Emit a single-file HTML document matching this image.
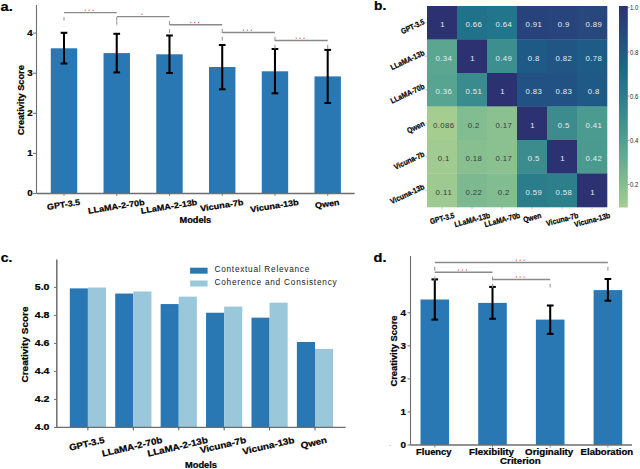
<!DOCTYPE html><html><head><meta charset="utf-8"><style>html,body{margin:0;padding:0;background:#fff;overflow:hidden}svg{display:block}</style></head><body>
<svg width="640" height="469" viewBox="0 0 640 469">
<rect width="640" height="469" fill="#fff"/>
<text x="0.50" y="10.60" style='font-family:"Liberation Sans",sans-serif;font-weight:bold;font-size:12.30px' text-anchor="start" fill="#000" stroke="#000" stroke-width="0.22" textLength="12.23" lengthAdjust="spacingAndGlyphs">a.</text>
<line x1="33.00" y1="193.50" x2="36.50" y2="193.50" stroke="#6e6e6e" stroke-width="1"/>
<text x="32.60" y="196.35" style='font-family:"Liberation Sans",sans-serif;font-weight:bold;font-size:8.21px' text-anchor="end" fill="#000" stroke="#000" stroke-width="0.22" textLength="5.39" lengthAdjust="spacingAndGlyphs">0</text>
<line x1="33.00" y1="153.40" x2="36.50" y2="153.40" stroke="#6e6e6e" stroke-width="1"/>
<text x="32.60" y="156.25" style='font-family:"Liberation Sans",sans-serif;font-weight:bold;font-size:8.21px' text-anchor="end" fill="#000" stroke="#000" stroke-width="0.22" textLength="5.39" lengthAdjust="spacingAndGlyphs">1</text>
<line x1="33.00" y1="113.30" x2="36.50" y2="113.30" stroke="#6e6e6e" stroke-width="1"/>
<text x="32.60" y="116.15" style='font-family:"Liberation Sans",sans-serif;font-weight:bold;font-size:8.21px' text-anchor="end" fill="#000" stroke="#000" stroke-width="0.22" textLength="5.39" lengthAdjust="spacingAndGlyphs">2</text>
<line x1="33.00" y1="73.20" x2="36.50" y2="73.20" stroke="#6e6e6e" stroke-width="1"/>
<text x="32.60" y="76.05" style='font-family:"Liberation Sans",sans-serif;font-weight:bold;font-size:8.21px' text-anchor="end" fill="#000" stroke="#000" stroke-width="0.22" textLength="5.39" lengthAdjust="spacingAndGlyphs">3</text>
<line x1="33.00" y1="33.10" x2="36.50" y2="33.10" stroke="#6e6e6e" stroke-width="1"/>
<text x="32.60" y="35.95" style='font-family:"Liberation Sans",sans-serif;font-weight:bold;font-size:8.21px' text-anchor="end" fill="#000" stroke="#000" stroke-width="0.22" textLength="5.39" lengthAdjust="spacingAndGlyphs">4</text>
<text x="23.86" y="100.30" style='font-family:"Liberation Sans",sans-serif;font-weight:bold;font-size:8.21px' text-anchor="middle" fill="#000" stroke="#000" stroke-width="0.22" transform="rotate(-90 23.86 100.30)" textLength="70.10" lengthAdjust="spacingAndGlyphs">Creativity Score</text>
<rect x="50.80" y="48.30" width="26.40" height="145.20" fill="#2977b3"/>
<rect x="103.54" y="53.10" width="26.40" height="140.40" fill="#2977b3"/>
<rect x="156.28" y="54.30" width="26.40" height="139.20" fill="#2977b3"/>
<rect x="209.02" y="67.00" width="26.40" height="126.50" fill="#2977b3"/>
<rect x="261.76" y="71.30" width="26.40" height="122.20" fill="#2977b3"/>
<rect x="314.50" y="76.40" width="26.40" height="117.10" fill="#2977b3"/>
<line x1="36.50" y1="5.00" x2="36.50" y2="193.50" stroke="#6e6e6e" stroke-width="1.1"/>
<line x1="36.50" y1="193.50" x2="354.60" y2="193.50" stroke="#6e6e6e" stroke-width="1.3"/>
<line x1="64.00" y1="32.80" x2="64.00" y2="63.50" stroke="#000" stroke-width="2.05"/>
<line x1="60.65" y1="32.80" x2="67.35" y2="32.80" stroke="#000" stroke-width="2.05"/>
<line x1="60.65" y1="63.50" x2="67.35" y2="63.50" stroke="#000" stroke-width="2.05"/>
<line x1="116.74" y1="33.80" x2="116.74" y2="72.40" stroke="#000" stroke-width="2.05"/>
<line x1="113.39" y1="33.80" x2="120.09" y2="33.80" stroke="#000" stroke-width="2.05"/>
<line x1="113.39" y1="72.40" x2="120.09" y2="72.40" stroke="#000" stroke-width="2.05"/>
<line x1="169.48" y1="35.50" x2="169.48" y2="73.00" stroke="#000" stroke-width="2.05"/>
<line x1="166.13" y1="35.50" x2="172.83" y2="35.50" stroke="#000" stroke-width="2.05"/>
<line x1="166.13" y1="73.00" x2="172.83" y2="73.00" stroke="#000" stroke-width="2.05"/>
<line x1="222.22" y1="45.00" x2="222.22" y2="89.30" stroke="#000" stroke-width="2.05"/>
<line x1="218.87" y1="45.00" x2="225.57" y2="45.00" stroke="#000" stroke-width="2.05"/>
<line x1="218.87" y1="89.30" x2="225.57" y2="89.30" stroke="#000" stroke-width="2.05"/>
<line x1="274.96" y1="49.00" x2="274.96" y2="93.30" stroke="#000" stroke-width="2.05"/>
<line x1="271.61" y1="49.00" x2="278.31" y2="49.00" stroke="#000" stroke-width="2.05"/>
<line x1="271.61" y1="93.30" x2="278.31" y2="93.30" stroke="#000" stroke-width="2.05"/>
<line x1="327.70" y1="49.90" x2="327.70" y2="103.00" stroke="#000" stroke-width="2.05"/>
<line x1="324.35" y1="49.90" x2="331.05" y2="49.90" stroke="#000" stroke-width="2.05"/>
<line x1="324.35" y1="103.00" x2="331.05" y2="103.00" stroke="#000" stroke-width="2.05"/>
<line x1="64.00" y1="193.50" x2="64.00" y2="196.00" stroke="#6e6e6e" stroke-width="0.8"/>
<line x1="116.74" y1="193.50" x2="116.74" y2="196.00" stroke="#6e6e6e" stroke-width="0.8"/>
<line x1="169.48" y1="193.50" x2="169.48" y2="196.00" stroke="#6e6e6e" stroke-width="0.8"/>
<line x1="222.22" y1="193.50" x2="222.22" y2="196.00" stroke="#6e6e6e" stroke-width="0.8"/>
<line x1="274.96" y1="193.50" x2="274.96" y2="196.00" stroke="#6e6e6e" stroke-width="0.8"/>
<line x1="327.70" y1="193.50" x2="327.70" y2="196.00" stroke="#6e6e6e" stroke-width="0.8"/>
<text x="64.00" y="207.37" style='font-family:"Liberation Sans",sans-serif;font-weight:bold;font-size:8.21px' text-anchor="middle" fill="#000" stroke="#000" stroke-width="0.22" transform="rotate(-9 64.00 207.37)" textLength="33.13" lengthAdjust="spacingAndGlyphs">GPT-3.5</text>
<text x="116.74" y="209.24" style='font-family:"Liberation Sans",sans-serif;font-weight:bold;font-size:8.21px' text-anchor="middle" fill="#000" stroke="#000" stroke-width="0.22" transform="rotate(-9 116.74 209.24)" textLength="56.97" lengthAdjust="spacingAndGlyphs">LLaMA-2-70b</text>
<text x="169.48" y="209.24" style='font-family:"Liberation Sans",sans-serif;font-weight:bold;font-size:8.21px' text-anchor="middle" fill="#000" stroke="#000" stroke-width="0.22" transform="rotate(-9 169.48 209.24)" textLength="56.97" lengthAdjust="spacingAndGlyphs">LLaMA-2-13b</text>
<text x="222.22" y="208.19" style='font-family:"Liberation Sans",sans-serif;font-weight:bold;font-size:8.21px' text-anchor="middle" fill="#000" stroke="#000" stroke-width="0.22" transform="rotate(-9 222.22 208.19)" textLength="43.53" lengthAdjust="spacingAndGlyphs">Vicuna-7b</text>
<text x="274.96" y="208.61" style='font-family:"Liberation Sans",sans-serif;font-weight:bold;font-size:8.21px' text-anchor="middle" fill="#000" stroke="#000" stroke-width="0.22" transform="rotate(-9 274.96 208.61)" textLength="48.93" lengthAdjust="spacingAndGlyphs">Vicuna-13b</text>
<text x="327.70" y="206.70" style='font-family:"Liberation Sans",sans-serif;font-weight:bold;font-size:8.21px' text-anchor="middle" fill="#000" stroke="#000" stroke-width="0.22" transform="rotate(-9 327.70 206.70)" textLength="24.52" lengthAdjust="spacingAndGlyphs">Qwen</text>
<text x="195.40" y="223.00" style='font-family:"Liberation Sans",sans-serif;font-weight:bold;font-size:8.37px' text-anchor="middle" fill="#000" stroke="#000" stroke-width="0.22" textLength="31.71" lengthAdjust="spacingAndGlyphs">Models</text>
<line x1="64.00" y1="12.60" x2="116.74" y2="12.60" stroke="#8a8a8a" stroke-width="1.45"/>
<line x1="64.00" y1="16.90" x2="64.00" y2="20.80" stroke="#9a9a9a" stroke-width="1.1"/>
<line x1="116.74" y1="16.90" x2="116.74" y2="20.80" stroke="#9a9a9a" stroke-width="1.1"/>
<circle cx="85.27" cy="10.30" r="0.75" fill="#f26b6b"/>
<circle cx="89.17" cy="10.30" r="0.75" fill="#f26b6b"/>
<circle cx="93.07" cy="10.30" r="0.75" fill="#f26b6b"/>
<line x1="116.74" y1="16.60" x2="169.48" y2="16.60" stroke="#8a8a8a" stroke-width="1.45"/>
<line x1="116.74" y1="20.90" x2="116.74" y2="24.80" stroke="#9a9a9a" stroke-width="1.1"/>
<line x1="169.48" y1="20.90" x2="169.48" y2="24.80" stroke="#9a9a9a" stroke-width="1.1"/>
<circle cx="141.91" cy="14.30" r="0.75" fill="#f26b6b"/>
<line x1="169.48" y1="24.80" x2="222.22" y2="24.80" stroke="#8a8a8a" stroke-width="1.45"/>
<line x1="169.48" y1="29.10" x2="169.48" y2="33.00" stroke="#9a9a9a" stroke-width="1.1"/>
<line x1="222.22" y1="29.10" x2="222.22" y2="33.00" stroke="#9a9a9a" stroke-width="1.1"/>
<circle cx="190.75" cy="22.50" r="0.75" fill="#f26b6b"/>
<circle cx="194.65" cy="22.50" r="0.75" fill="#f26b6b"/>
<circle cx="198.55" cy="22.50" r="0.75" fill="#f26b6b"/>
<line x1="222.22" y1="32.50" x2="274.96" y2="32.50" stroke="#8a8a8a" stroke-width="1.45"/>
<line x1="222.22" y1="36.80" x2="222.22" y2="40.70" stroke="#9a9a9a" stroke-width="1.1"/>
<line x1="274.96" y1="36.80" x2="274.96" y2="40.70" stroke="#9a9a9a" stroke-width="1.1"/>
<circle cx="243.49" cy="30.20" r="0.75" fill="#f26b6b"/>
<circle cx="247.39" cy="30.20" r="0.75" fill="#f26b6b"/>
<circle cx="251.29" cy="30.20" r="0.75" fill="#f26b6b"/>
<line x1="274.96" y1="40.50" x2="327.70" y2="40.50" stroke="#8a8a8a" stroke-width="1.45"/>
<line x1="274.96" y1="44.80" x2="274.96" y2="48.70" stroke="#9a9a9a" stroke-width="1.1"/>
<line x1="327.70" y1="44.80" x2="327.70" y2="48.70" stroke="#9a9a9a" stroke-width="1.1"/>
<circle cx="296.23" cy="38.20" r="0.75" fill="#f26b6b"/>
<circle cx="300.13" cy="38.20" r="0.75" fill="#f26b6b"/>
<circle cx="304.03" cy="38.20" r="0.75" fill="#f26b6b"/>
<text x="374.00" y="9.80" style='font-family:"Liberation Sans",sans-serif;font-weight:bold;font-size:11.87px' text-anchor="start" fill="#000" stroke="#000" stroke-width="0.22" textLength="12.27" lengthAdjust="spacingAndGlyphs">b.</text>
<rect x="427.00" y="6.00" width="30.30" height="33.80" fill="#2c3172"/>
<rect x="457.00" y="6.00" width="30.30" height="33.80" fill="#20728b"/>
<rect x="487.00" y="6.00" width="30.30" height="33.80" fill="#23758b"/>
<rect x="517.00" y="6.00" width="30.30" height="33.80" fill="#28437b"/>
<rect x="547.00" y="6.00" width="30.30" height="33.80" fill="#27457c"/>
<rect x="577.00" y="6.00" width="30.30" height="33.80" fill="#27477d"/>
<rect x="427.00" y="39.50" width="30.30" height="33.80" fill="#5ba690"/>
<rect x="457.00" y="39.50" width="30.30" height="33.80" fill="#2c3172"/>
<rect x="487.00" y="39.50" width="30.30" height="33.80" fill="#3d8e8e"/>
<rect x="517.00" y="39.50" width="30.30" height="33.80" fill="#1f5985"/>
<rect x="547.00" y="39.50" width="30.30" height="33.80" fill="#215583"/>
<rect x="577.00" y="39.50" width="30.30" height="33.80" fill="#1e5c86"/>
<rect x="427.00" y="73.00" width="30.30" height="33.80" fill="#57a490"/>
<rect x="457.00" y="73.00" width="30.30" height="33.80" fill="#3a8b8e"/>
<rect x="487.00" y="73.00" width="30.30" height="33.80" fill="#2c3172"/>
<rect x="517.00" y="73.00" width="30.30" height="33.80" fill="#225283"/>
<rect x="547.00" y="73.00" width="30.30" height="33.80" fill="#225283"/>
<rect x="577.00" y="73.00" width="30.30" height="33.80" fill="#1f5985"/>
<rect x="427.00" y="106.50" width="30.30" height="33.80" fill="#a5cd90"/>
<rect x="457.00" y="106.50" width="30.30" height="33.80" fill="#82bc91"/>
<rect x="487.00" y="106.50" width="30.30" height="33.80" fill="#8bc191"/>
<rect x="517.00" y="106.50" width="30.30" height="33.80" fill="#2c3172"/>
<rect x="547.00" y="106.50" width="30.30" height="33.80" fill="#3c8c8e"/>
<rect x="577.00" y="106.50" width="30.30" height="33.80" fill="#4c9b90"/>
<rect x="427.00" y="140.00" width="30.30" height="33.80" fill="#a2cb91"/>
<rect x="457.00" y="140.00" width="30.30" height="33.80" fill="#88bf91"/>
<rect x="487.00" y="140.00" width="30.30" height="33.80" fill="#8bc191"/>
<rect x="517.00" y="140.00" width="30.30" height="33.80" fill="#3c8c8e"/>
<rect x="547.00" y="140.00" width="30.30" height="33.80" fill="#2c3172"/>
<rect x="577.00" y="140.00" width="30.30" height="33.80" fill="#4a9a8f"/>
<rect x="427.00" y="173.50" width="30.30" height="33.80" fill="#9eca91"/>
<rect x="457.00" y="173.50" width="30.30" height="33.80" fill="#7cb991"/>
<rect x="487.00" y="173.50" width="30.30" height="33.80" fill="#82bc91"/>
<rect x="517.00" y="173.50" width="30.30" height="33.80" fill="#2b7d8c"/>
<rect x="547.00" y="173.50" width="30.30" height="33.80" fill="#2d7f8c"/>
<rect x="577.00" y="173.50" width="30.30" height="33.80" fill="#2c3172"/>
<text x="442.50" y="27.35" style='font-family:"Liberation Sans",sans-serif;font-size:7.80px' text-anchor="middle" fill="#e6edf0">1</text>
<text x="473.60" y="27.35" style='font-family:"Liberation Sans",sans-serif;font-size:7.80px' text-anchor="middle" fill="#e6edf0" textLength="16.40" lengthAdjust="spacing">0.66</text>
<text x="503.60" y="27.35" style='font-family:"Liberation Sans",sans-serif;font-size:7.80px' text-anchor="middle" fill="#e6edf0" textLength="16.40" lengthAdjust="spacing">0.64</text>
<text x="533.60" y="27.35" style='font-family:"Liberation Sans",sans-serif;font-size:7.80px' text-anchor="middle" fill="#e6edf0" textLength="16.40" lengthAdjust="spacing">0.91</text>
<text x="563.60" y="27.35" style='font-family:"Liberation Sans",sans-serif;font-size:7.80px' text-anchor="middle" fill="#e6edf0" textLength="11.50" lengthAdjust="spacing">0.9</text>
<text x="593.60" y="27.35" style='font-family:"Liberation Sans",sans-serif;font-size:7.80px' text-anchor="middle" fill="#e6edf0" textLength="16.40" lengthAdjust="spacing">0.89</text>
<text x="443.60" y="60.85" style='font-family:"Liberation Sans",sans-serif;font-size:7.80px' text-anchor="middle" fill="#e6edf0" textLength="16.40" lengthAdjust="spacing">0.34</text>
<text x="472.50" y="60.85" style='font-family:"Liberation Sans",sans-serif;font-size:7.80px' text-anchor="middle" fill="#e6edf0">1</text>
<text x="503.60" y="60.85" style='font-family:"Liberation Sans",sans-serif;font-size:7.80px' text-anchor="middle" fill="#e6edf0" textLength="16.40" lengthAdjust="spacing">0.49</text>
<text x="533.60" y="60.85" style='font-family:"Liberation Sans",sans-serif;font-size:7.80px' text-anchor="middle" fill="#e6edf0" textLength="11.50" lengthAdjust="spacing">0.8</text>
<text x="563.60" y="60.85" style='font-family:"Liberation Sans",sans-serif;font-size:7.80px' text-anchor="middle" fill="#e6edf0" textLength="16.40" lengthAdjust="spacing">0.82</text>
<text x="593.60" y="60.85" style='font-family:"Liberation Sans",sans-serif;font-size:7.80px' text-anchor="middle" fill="#e6edf0" textLength="16.40" lengthAdjust="spacing">0.78</text>
<text x="443.60" y="94.35" style='font-family:"Liberation Sans",sans-serif;font-size:7.80px' text-anchor="middle" fill="#e6edf0" textLength="16.40" lengthAdjust="spacing">0.36</text>
<text x="473.60" y="94.35" style='font-family:"Liberation Sans",sans-serif;font-size:7.80px' text-anchor="middle" fill="#e6edf0" textLength="16.40" lengthAdjust="spacing">0.51</text>
<text x="502.50" y="94.35" style='font-family:"Liberation Sans",sans-serif;font-size:7.80px' text-anchor="middle" fill="#e6edf0">1</text>
<text x="533.60" y="94.35" style='font-family:"Liberation Sans",sans-serif;font-size:7.80px' text-anchor="middle" fill="#e6edf0" textLength="16.40" lengthAdjust="spacing">0.83</text>
<text x="563.60" y="94.35" style='font-family:"Liberation Sans",sans-serif;font-size:7.80px' text-anchor="middle" fill="#e6edf0" textLength="16.40" lengthAdjust="spacing">0.83</text>
<text x="593.60" y="94.35" style='font-family:"Liberation Sans",sans-serif;font-size:7.80px' text-anchor="middle" fill="#e6edf0" textLength="11.50" lengthAdjust="spacing">0.8</text>
<text x="443.60" y="127.85" style='font-family:"Liberation Sans",sans-serif;font-size:7.80px' text-anchor="middle" fill="#3a3a3a" textLength="21.00" lengthAdjust="spacing">0.086</text>
<text x="473.60" y="127.85" style='font-family:"Liberation Sans",sans-serif;font-size:7.80px' text-anchor="middle" fill="#3a3a3a" textLength="11.50" lengthAdjust="spacing">0.2</text>
<text x="503.60" y="127.85" style='font-family:"Liberation Sans",sans-serif;font-size:7.80px' text-anchor="middle" fill="#3a3a3a" textLength="16.40" lengthAdjust="spacing">0.17</text>
<text x="532.50" y="127.85" style='font-family:"Liberation Sans",sans-serif;font-size:7.80px' text-anchor="middle" fill="#e6edf0">1</text>
<text x="563.60" y="127.85" style='font-family:"Liberation Sans",sans-serif;font-size:7.80px' text-anchor="middle" fill="#e6edf0" textLength="11.50" lengthAdjust="spacing">0.5</text>
<text x="593.60" y="127.85" style='font-family:"Liberation Sans",sans-serif;font-size:7.80px' text-anchor="middle" fill="#e6edf0" textLength="16.40" lengthAdjust="spacing">0.41</text>
<text x="443.60" y="161.35" style='font-family:"Liberation Sans",sans-serif;font-size:7.80px' text-anchor="middle" fill="#3a3a3a" textLength="11.50" lengthAdjust="spacing">0.1</text>
<text x="473.60" y="161.35" style='font-family:"Liberation Sans",sans-serif;font-size:7.80px' text-anchor="middle" fill="#3a3a3a" textLength="16.40" lengthAdjust="spacing">0.18</text>
<text x="503.60" y="161.35" style='font-family:"Liberation Sans",sans-serif;font-size:7.80px' text-anchor="middle" fill="#3a3a3a" textLength="16.40" lengthAdjust="spacing">0.17</text>
<text x="533.60" y="161.35" style='font-family:"Liberation Sans",sans-serif;font-size:7.80px' text-anchor="middle" fill="#e6edf0" textLength="11.50" lengthAdjust="spacing">0.5</text>
<text x="562.50" y="161.35" style='font-family:"Liberation Sans",sans-serif;font-size:7.80px' text-anchor="middle" fill="#e6edf0">1</text>
<text x="593.60" y="161.35" style='font-family:"Liberation Sans",sans-serif;font-size:7.80px' text-anchor="middle" fill="#e6edf0" textLength="16.40" lengthAdjust="spacing">0.42</text>
<text x="443.60" y="194.85" style='font-family:"Liberation Sans",sans-serif;font-size:7.80px' text-anchor="middle" fill="#3a3a3a" textLength="16.40" lengthAdjust="spacing">0.11</text>
<text x="473.60" y="194.85" style='font-family:"Liberation Sans",sans-serif;font-size:7.80px' text-anchor="middle" fill="#3a3a3a" textLength="16.40" lengthAdjust="spacing">0.22</text>
<text x="503.60" y="194.85" style='font-family:"Liberation Sans",sans-serif;font-size:7.80px' text-anchor="middle" fill="#3a3a3a" textLength="11.50" lengthAdjust="spacing">0.2</text>
<text x="533.60" y="194.85" style='font-family:"Liberation Sans",sans-serif;font-size:7.80px' text-anchor="middle" fill="#e6edf0" textLength="16.40" lengthAdjust="spacing">0.59</text>
<text x="563.60" y="194.85" style='font-family:"Liberation Sans",sans-serif;font-size:7.80px' text-anchor="middle" fill="#e6edf0" textLength="16.40" lengthAdjust="spacing">0.58</text>
<text x="592.50" y="194.85" style='font-family:"Liberation Sans",sans-serif;font-size:7.80px' text-anchor="middle" fill="#e6edf0">1</text>
<text x="425.20" y="23.70" style='font-family:"Liberation Sans",sans-serif;font-weight:bold;font-size:7.80px' text-anchor="end" fill="#000" stroke="#000" stroke-width="0.22" transform="rotate(-25 425.20 23.70)" textLength="25.01" lengthAdjust="spacingAndGlyphs">GPT-3.5</text>
<line x1="424.50" y1="22.75" x2="427.00" y2="22.75" stroke="#aaa" stroke-width="0.6"/>
<text x="425.20" y="54.77" style='font-family:"Liberation Sans",sans-serif;font-weight:bold;font-size:7.80px' text-anchor="end" fill="#000" stroke="#000" stroke-width="0.22" transform="rotate(-25 425.20 54.77)" textLength="36.51" lengthAdjust="spacingAndGlyphs">LLaMA-13b</text>
<line x1="424.50" y1="56.25" x2="427.00" y2="56.25" stroke="#aaa" stroke-width="0.6"/>
<text x="425.20" y="88.27" style='font-family:"Liberation Sans",sans-serif;font-weight:bold;font-size:7.80px' text-anchor="end" fill="#000" stroke="#000" stroke-width="0.22" transform="rotate(-25 425.20 88.27)" textLength="36.51" lengthAdjust="spacingAndGlyphs">LLaMA-70b</text>
<line x1="424.50" y1="89.75" x2="427.00" y2="89.75" stroke="#aaa" stroke-width="0.6"/>
<text x="425.20" y="125.57" style='font-family:"Liberation Sans",sans-serif;font-weight:bold;font-size:7.80px' text-anchor="end" fill="#000" stroke="#000" stroke-width="0.22" transform="rotate(-25 425.20 125.57)" textLength="18.51" lengthAdjust="spacingAndGlyphs">Qwen</text>
<line x1="424.50" y1="123.25" x2="427.00" y2="123.25" stroke="#aaa" stroke-width="0.6"/>
<text x="425.20" y="156.04" style='font-family:"Liberation Sans",sans-serif;font-weight:bold;font-size:7.80px' text-anchor="end" fill="#000" stroke="#000" stroke-width="0.22" transform="rotate(-25 425.20 156.04)" textLength="32.86" lengthAdjust="spacingAndGlyphs">Vicuna-7b</text>
<line x1="424.50" y1="156.75" x2="427.00" y2="156.75" stroke="#aaa" stroke-width="0.6"/>
<text x="425.20" y="188.68" style='font-family:"Liberation Sans",sans-serif;font-weight:bold;font-size:7.80px' text-anchor="end" fill="#000" stroke="#000" stroke-width="0.22" transform="rotate(-25 425.20 188.68)" textLength="36.93" lengthAdjust="spacingAndGlyphs">Vicuna-13b</text>
<line x1="424.50" y1="190.25" x2="427.00" y2="190.25" stroke="#aaa" stroke-width="0.6"/>
<line x1="442.00" y1="207.00" x2="442.00" y2="209.50" stroke="#aaa" stroke-width="0.6"/>
<text x="442.90" y="220.96" style='font-family:"Liberation Sans",sans-serif;font-weight:bold;font-size:7.80px' text-anchor="middle" fill="#000" stroke="#000" stroke-width="0.22" transform="rotate(-15 442.90 220.96)" textLength="25.01" lengthAdjust="spacingAndGlyphs">GPT-3.5</text>
<line x1="472.00" y1="207.00" x2="472.00" y2="209.50" stroke="#aaa" stroke-width="0.6"/>
<text x="472.90" y="222.44" style='font-family:"Liberation Sans",sans-serif;font-weight:bold;font-size:7.80px' text-anchor="middle" fill="#000" stroke="#000" stroke-width="0.22" transform="rotate(-15 472.90 222.44)" textLength="36.51" lengthAdjust="spacingAndGlyphs">LLaMA-13b</text>
<line x1="502.00" y1="207.00" x2="502.00" y2="209.50" stroke="#aaa" stroke-width="0.6"/>
<text x="502.90" y="222.44" style='font-family:"Liberation Sans",sans-serif;font-weight:bold;font-size:7.80px' text-anchor="middle" fill="#000" stroke="#000" stroke-width="0.22" transform="rotate(-15 502.90 222.44)" textLength="36.51" lengthAdjust="spacingAndGlyphs">LLaMA-70b</text>
<line x1="532.00" y1="207.00" x2="532.00" y2="209.50" stroke="#aaa" stroke-width="0.6"/>
<text x="532.90" y="220.11" style='font-family:"Liberation Sans",sans-serif;font-weight:bold;font-size:7.80px' text-anchor="middle" fill="#000" stroke="#000" stroke-width="0.22" transform="rotate(-15 532.90 220.11)" textLength="18.51" lengthAdjust="spacingAndGlyphs">Qwen</text>
<line x1="562.00" y1="207.00" x2="562.00" y2="209.50" stroke="#aaa" stroke-width="0.6"/>
<text x="562.90" y="221.97" style='font-family:"Liberation Sans",sans-serif;font-weight:bold;font-size:7.80px' text-anchor="middle" fill="#000" stroke="#000" stroke-width="0.22" transform="rotate(-15 562.90 221.97)" textLength="32.86" lengthAdjust="spacingAndGlyphs">Vicuna-7b</text>
<line x1="592.00" y1="207.00" x2="592.00" y2="209.50" stroke="#aaa" stroke-width="0.6"/>
<text x="592.90" y="222.50" style='font-family:"Liberation Sans",sans-serif;font-weight:bold;font-size:7.80px' text-anchor="middle" fill="#000" stroke="#000" stroke-width="0.22" transform="rotate(-15 592.90 222.50)" textLength="36.93" lengthAdjust="spacingAndGlyphs">Vicuna-13b</text>
<defs><linearGradient id="crest" x1="0" y1="1" x2="0" y2="0">
<stop offset="0.0" stop-color="#a5cd90"/>
<stop offset="0.1" stop-color="#89bf91"/>
<stop offset="0.2" stop-color="#6db290"/>
<stop offset="0.3" stop-color="#57a490"/>
<stop offset="0.4" stop-color="#44948f"/>
<stop offset="0.5" stop-color="#33858d"/>
<stop offset="0.6" stop-color="#24768b"/>
<stop offset="0.7" stop-color="#1c6689"/>
<stop offset="0.8" stop-color="#215584"/>
<stop offset="0.9" stop-color="#28437b"/>
<stop offset="1.0" stop-color="#2c3172"/>
</linearGradient></defs>
<rect x="619.00" y="6.00" width="8.80" height="201.50" fill="url(#crest)"/>
<line x1="627.80" y1="7.70" x2="629.50" y2="7.70" stroke="#555" stroke-width="0.6"/>
<text x="630.00" y="10.40" style='font-family:"Liberation Sans",sans-serif;font-size:7.60px' text-anchor="start" fill="#222" textLength="8.30" lengthAdjust="spacingAndGlyphs">1.0</text>
<line x1="627.80" y1="51.90" x2="629.50" y2="51.90" stroke="#555" stroke-width="0.6"/>
<text x="630.00" y="54.60" style='font-family:"Liberation Sans",sans-serif;font-size:7.60px' text-anchor="start" fill="#222" textLength="8.30" lengthAdjust="spacingAndGlyphs">0.8</text>
<line x1="627.80" y1="96.10" x2="629.50" y2="96.10" stroke="#555" stroke-width="0.6"/>
<text x="630.00" y="98.80" style='font-family:"Liberation Sans",sans-serif;font-size:7.60px' text-anchor="start" fill="#222" textLength="8.30" lengthAdjust="spacingAndGlyphs">0.6</text>
<line x1="627.80" y1="140.30" x2="629.50" y2="140.30" stroke="#555" stroke-width="0.6"/>
<text x="630.00" y="143.00" style='font-family:"Liberation Sans",sans-serif;font-size:7.60px' text-anchor="start" fill="#222" textLength="8.30" lengthAdjust="spacingAndGlyphs">0.4</text>
<line x1="627.80" y1="184.50" x2="629.50" y2="184.50" stroke="#555" stroke-width="0.6"/>
<text x="630.00" y="187.20" style='font-family:"Liberation Sans",sans-serif;font-size:7.60px' text-anchor="start" fill="#222" textLength="8.30" lengthAdjust="spacingAndGlyphs">0.2</text>
<text x="0.80" y="262.00" style='font-family:"Liberation Sans",sans-serif;font-weight:bold;font-size:12.72px' text-anchor="start" fill="#000" stroke="#000" stroke-width="0.22" textLength="11.67" lengthAdjust="spacingAndGlyphs">c.</text>
<line x1="54.00" y1="427.40" x2="57.00" y2="427.40" stroke="#6e6e6e" stroke-width="1"/>
<text x="49.50" y="430.40" style='font-family:"Liberation Sans",sans-serif;font-weight:bold;font-size:8.80px' text-anchor="end" fill="#000" stroke="#000" stroke-width="0.22" textLength="14.70" lengthAdjust="spacingAndGlyphs">4.0</text>
<line x1="54.00" y1="399.40" x2="57.00" y2="399.40" stroke="#6e6e6e" stroke-width="1"/>
<text x="49.50" y="402.40" style='font-family:"Liberation Sans",sans-serif;font-weight:bold;font-size:8.80px' text-anchor="end" fill="#000" stroke="#000" stroke-width="0.22" textLength="14.70" lengthAdjust="spacingAndGlyphs">4.2</text>
<line x1="54.00" y1="371.40" x2="57.00" y2="371.40" stroke="#6e6e6e" stroke-width="1"/>
<text x="49.50" y="374.40" style='font-family:"Liberation Sans",sans-serif;font-weight:bold;font-size:8.80px' text-anchor="end" fill="#000" stroke="#000" stroke-width="0.22" textLength="14.70" lengthAdjust="spacingAndGlyphs">4.4</text>
<line x1="54.00" y1="343.40" x2="57.00" y2="343.40" stroke="#6e6e6e" stroke-width="1"/>
<text x="49.50" y="346.40" style='font-family:"Liberation Sans",sans-serif;font-weight:bold;font-size:8.80px' text-anchor="end" fill="#000" stroke="#000" stroke-width="0.22" textLength="14.70" lengthAdjust="spacingAndGlyphs">4.6</text>
<line x1="54.00" y1="315.40" x2="57.00" y2="315.40" stroke="#6e6e6e" stroke-width="1"/>
<text x="49.50" y="318.40" style='font-family:"Liberation Sans",sans-serif;font-weight:bold;font-size:8.80px' text-anchor="end" fill="#000" stroke="#000" stroke-width="0.22" textLength="14.70" lengthAdjust="spacingAndGlyphs">4.8</text>
<line x1="54.00" y1="287.40" x2="57.00" y2="287.40" stroke="#6e6e6e" stroke-width="1"/>
<text x="49.50" y="290.40" style='font-family:"Liberation Sans",sans-serif;font-weight:bold;font-size:8.80px' text-anchor="end" fill="#000" stroke="#000" stroke-width="0.22" textLength="14.70" lengthAdjust="spacingAndGlyphs">5.0</text>
<text x="28.01" y="344.50" style='font-family:"Liberation Sans",sans-serif;font-weight:bold;font-size:8.90px' text-anchor="middle" fill="#000" stroke="#000" stroke-width="0.22" transform="rotate(-90 28.01 344.50)" textLength="75.98" lengthAdjust="spacingAndGlyphs">Creativity Score</text>
<rect x="69.80" y="288.38" width="18.10" height="139.02" fill="#2977b3"/>
<rect x="87.90" y="287.54" width="18.10" height="139.86" fill="#9bc7da"/>
<rect x="115.22" y="293.56" width="18.10" height="133.84" fill="#2977b3"/>
<rect x="133.32" y="291.46" width="18.10" height="135.94" fill="#9bc7da"/>
<rect x="160.64" y="304.06" width="18.10" height="123.34" fill="#2977b3"/>
<rect x="178.74" y="296.64" width="18.10" height="130.76" fill="#9bc7da"/>
<rect x="206.06" y="312.74" width="18.10" height="114.66" fill="#2977b3"/>
<rect x="224.16" y="306.58" width="18.10" height="120.82" fill="#9bc7da"/>
<rect x="251.48" y="317.64" width="18.10" height="109.76" fill="#2977b3"/>
<rect x="269.58" y="302.66" width="18.10" height="124.74" fill="#9bc7da"/>
<rect x="296.90" y="342.00" width="18.10" height="85.40" fill="#2977b3"/>
<rect x="315.00" y="349.00" width="18.10" height="78.40" fill="#9bc7da"/>
<line x1="56.80" y1="259.40" x2="56.80" y2="427.40" stroke="#6e6e6e" stroke-width="1.5"/>
<line x1="57.00" y1="427.40" x2="345.70" y2="427.40" stroke="#6e6e6e" stroke-width="1.3"/>
<line x1="87.90" y1="427.40" x2="87.90" y2="430.40" stroke="#444" stroke-width="0.9"/>
<line x1="133.32" y1="427.40" x2="133.32" y2="430.40" stroke="#444" stroke-width="0.9"/>
<line x1="178.74" y1="427.40" x2="178.74" y2="430.40" stroke="#444" stroke-width="0.9"/>
<line x1="224.16" y1="427.40" x2="224.16" y2="430.40" stroke="#444" stroke-width="0.9"/>
<line x1="269.58" y1="427.40" x2="269.58" y2="430.40" stroke="#444" stroke-width="0.9"/>
<line x1="315.00" y1="427.40" x2="315.00" y2="430.40" stroke="#444" stroke-width="0.9"/>
<text x="87.40" y="446.81" style='font-family:"Liberation Sans",sans-serif;font-weight:bold;font-size:8.90px' text-anchor="middle" fill="#000" stroke="#000" stroke-width="0.22" transform="rotate(-13 87.40 446.81)" textLength="35.91" lengthAdjust="spacingAndGlyphs">GPT-3.5</text>
<text x="132.82" y="449.71" style='font-family:"Liberation Sans",sans-serif;font-weight:bold;font-size:8.90px' text-anchor="middle" fill="#000" stroke="#000" stroke-width="0.22" transform="rotate(-13 132.82 449.71)" textLength="61.75" lengthAdjust="spacingAndGlyphs">LLaMA-2-70b</text>
<text x="178.24" y="449.71" style='font-family:"Liberation Sans",sans-serif;font-weight:bold;font-size:8.90px' text-anchor="middle" fill="#000" stroke="#000" stroke-width="0.22" transform="rotate(-13 178.24 449.71)" textLength="61.75" lengthAdjust="spacingAndGlyphs">LLaMA-2-13b</text>
<text x="223.66" y="448.07" style='font-family:"Liberation Sans",sans-serif;font-weight:bold;font-size:8.90px' text-anchor="middle" fill="#000" stroke="#000" stroke-width="0.22" transform="rotate(-13 223.66 448.07)" textLength="47.18" lengthAdjust="spacingAndGlyphs">Vicuna-7b</text>
<text x="269.08" y="448.73" style='font-family:"Liberation Sans",sans-serif;font-weight:bold;font-size:8.90px' text-anchor="middle" fill="#000" stroke="#000" stroke-width="0.22" transform="rotate(-13 269.08 448.73)" textLength="53.03" lengthAdjust="spacingAndGlyphs">Vicuna-13b</text>
<text x="314.50" y="445.76" style='font-family:"Liberation Sans",sans-serif;font-weight:bold;font-size:8.90px' text-anchor="middle" fill="#000" stroke="#000" stroke-width="0.22" transform="rotate(-13 314.50 445.76)" textLength="26.58" lengthAdjust="spacingAndGlyphs">Qwen</text>
<text x="201.00" y="468.30" style='font-family:"Liberation Sans",sans-serif;font-weight:bold;font-size:8.48px' text-anchor="middle" fill="#000" stroke="#000" stroke-width="0.22" textLength="32.11" lengthAdjust="spacingAndGlyphs">Models</text>
<rect x="190.10" y="267.70" width="17.50" height="6.00" fill="#2977b3"/>
<rect x="190.10" y="280.50" width="17.50" height="6.00" fill="#9bc7da"/>
<text x="214.50" y="272.40" style='font-family:"Liberation Sans",sans-serif;font-size:8.30px' text-anchor="start" fill="#1a1a1a" textLength="94.80" lengthAdjust="spacing">Contextual Relevance</text>
<text x="214.50" y="285.40" style='font-family:"Liberation Sans",sans-serif;font-size:8.30px' text-anchor="start" fill="#1a1a1a" textLength="122.20" lengthAdjust="spacing">Coherence and Consistency</text>
<text x="373.50" y="262.00" style='font-family:"Liberation Sans",sans-serif;font-weight:bold;font-size:12.51px' text-anchor="start" fill="#000" stroke="#000" stroke-width="0.22" textLength="12.93" lengthAdjust="spacingAndGlyphs">d.</text>
<line x1="407.50" y1="445.00" x2="410.50" y2="445.00" stroke="#6e6e6e" stroke-width="1"/>
<text x="406.00" y="447.90" style='font-family:"Liberation Sans",sans-serif;font-weight:bold;font-size:8.37px' text-anchor="end" fill="#000" stroke="#000" stroke-width="0.22" textLength="5.50" lengthAdjust="spacingAndGlyphs">0</text>
<line x1="407.50" y1="411.95" x2="410.50" y2="411.95" stroke="#6e6e6e" stroke-width="1"/>
<text x="406.00" y="414.85" style='font-family:"Liberation Sans",sans-serif;font-weight:bold;font-size:8.37px' text-anchor="end" fill="#000" stroke="#000" stroke-width="0.22" textLength="5.50" lengthAdjust="spacingAndGlyphs">1</text>
<line x1="407.50" y1="378.90" x2="410.50" y2="378.90" stroke="#6e6e6e" stroke-width="1"/>
<text x="406.00" y="381.80" style='font-family:"Liberation Sans",sans-serif;font-weight:bold;font-size:8.37px' text-anchor="end" fill="#000" stroke="#000" stroke-width="0.22" textLength="5.50" lengthAdjust="spacingAndGlyphs">2</text>
<line x1="407.50" y1="345.85" x2="410.50" y2="345.85" stroke="#6e6e6e" stroke-width="1"/>
<text x="406.00" y="348.75" style='font-family:"Liberation Sans",sans-serif;font-weight:bold;font-size:8.37px' text-anchor="end" fill="#000" stroke="#000" stroke-width="0.22" textLength="5.50" lengthAdjust="spacingAndGlyphs">3</text>
<line x1="407.50" y1="312.80" x2="410.50" y2="312.80" stroke="#6e6e6e" stroke-width="1"/>
<text x="406.00" y="315.70" style='font-family:"Liberation Sans",sans-serif;font-weight:bold;font-size:8.37px' text-anchor="end" fill="#000" stroke="#000" stroke-width="0.22" textLength="5.50" lengthAdjust="spacingAndGlyphs">4</text>
<text x="396.90" y="351.00" style='font-family:"Liberation Sans",sans-serif;font-weight:bold;font-size:8.32px' text-anchor="middle" fill="#000" stroke="#000" stroke-width="0.22" transform="rotate(-90 396.90 351.00)" textLength="71.00" lengthAdjust="spacingAndGlyphs">Creativity Score</text>
<rect x="420.50" y="299.50" width="28.60" height="145.50" fill="#2977b3"/>
<rect x="478.20" y="302.90" width="28.60" height="142.10" fill="#2977b3"/>
<rect x="535.90" y="319.60" width="28.60" height="125.40" fill="#2977b3"/>
<rect x="593.60" y="290.10" width="28.60" height="154.90" fill="#2977b3"/>
<line x1="410.50" y1="256.00" x2="410.50" y2="445.00" stroke="#6e6e6e" stroke-width="1.1"/>
<line x1="410.50" y1="445.00" x2="632.00" y2="445.00" stroke="#6e6e6e" stroke-width="1.3"/>
<line x1="434.80" y1="279.40" x2="434.80" y2="319.60" stroke="#000" stroke-width="2.05"/>
<line x1="431.45" y1="279.40" x2="438.15" y2="279.40" stroke="#000" stroke-width="2.05"/>
<line x1="431.45" y1="319.60" x2="438.15" y2="319.60" stroke="#000" stroke-width="2.05"/>
<line x1="492.50" y1="286.90" x2="492.50" y2="318.80" stroke="#000" stroke-width="2.05"/>
<line x1="489.15" y1="286.90" x2="495.85" y2="286.90" stroke="#000" stroke-width="2.05"/>
<line x1="489.15" y1="318.80" x2="495.85" y2="318.80" stroke="#000" stroke-width="2.05"/>
<line x1="550.20" y1="305.50" x2="550.20" y2="333.90" stroke="#000" stroke-width="2.05"/>
<line x1="546.85" y1="305.50" x2="553.55" y2="305.50" stroke="#000" stroke-width="2.05"/>
<line x1="546.85" y1="333.90" x2="553.55" y2="333.90" stroke="#000" stroke-width="2.05"/>
<line x1="607.90" y1="279.00" x2="607.90" y2="300.70" stroke="#000" stroke-width="2.05"/>
<line x1="604.55" y1="279.00" x2="611.25" y2="279.00" stroke="#000" stroke-width="2.05"/>
<line x1="604.55" y1="300.70" x2="611.25" y2="300.70" stroke="#000" stroke-width="2.05"/>
<line x1="434.80" y1="445.00" x2="434.80" y2="447.50" stroke="#6e6e6e" stroke-width="0.8"/>
<line x1="492.50" y1="445.00" x2="492.50" y2="447.50" stroke="#6e6e6e" stroke-width="0.8"/>
<line x1="550.20" y1="445.00" x2="550.20" y2="447.50" stroke="#6e6e6e" stroke-width="0.8"/>
<line x1="607.90" y1="445.00" x2="607.90" y2="447.50" stroke="#6e6e6e" stroke-width="0.8"/>
<text x="433.80" y="455.20" style='font-family:"Liberation Sans",sans-serif;font-weight:bold;font-size:8.59px' text-anchor="middle" fill="#000" stroke="#000" stroke-width="0.22" textLength="35.42" lengthAdjust="spacingAndGlyphs">Fluency</text>
<text x="491.50" y="455.20" style='font-family:"Liberation Sans",sans-serif;font-weight:bold;font-size:8.59px' text-anchor="middle" fill="#000" stroke="#000" stroke-width="0.22" textLength="45.08" lengthAdjust="spacingAndGlyphs">Flexibility</text>
<text x="549.20" y="455.20" style='font-family:"Liberation Sans",sans-serif;font-weight:bold;font-size:8.59px' text-anchor="middle" fill="#000" stroke="#000" stroke-width="0.22" textLength="48.17" lengthAdjust="spacingAndGlyphs">Originality</text>
<text x="606.90" y="455.20" style='font-family:"Liberation Sans",sans-serif;font-weight:bold;font-size:8.59px' text-anchor="middle" fill="#000" stroke="#000" stroke-width="0.22" textLength="52.58" lengthAdjust="spacingAndGlyphs">Elaboration</text>
<text x="520.40" y="464.30" style='font-family:"Liberation Sans",sans-serif;font-weight:bold;font-size:8.69px' text-anchor="middle" fill="#000" stroke="#000" stroke-width="0.22" textLength="40.68" lengthAdjust="spacingAndGlyphs">Criterion</text>
<line x1="434.80" y1="262.50" x2="607.90" y2="262.50" stroke="#8a8a8a" stroke-width="1.45"/>
<line x1="434.80" y1="266.80" x2="434.80" y2="270.70" stroke="#9a9a9a" stroke-width="1.1"/>
<line x1="607.90" y1="266.80" x2="607.90" y2="270.70" stroke="#9a9a9a" stroke-width="1.1"/>
<circle cx="516.25" cy="260.20" r="0.75" fill="#f26b6b"/>
<circle cx="520.15" cy="260.20" r="0.75" fill="#f26b6b"/>
<circle cx="524.05" cy="260.20" r="0.75" fill="#f26b6b"/>
<line x1="434.80" y1="272.20" x2="492.50" y2="272.20" stroke="#8a8a8a" stroke-width="1.45"/>
<line x1="434.80" y1="276.50" x2="434.80" y2="280.40" stroke="#9a9a9a" stroke-width="1.1"/>
<line x1="492.50" y1="276.50" x2="492.50" y2="280.40" stroke="#9a9a9a" stroke-width="1.1"/>
<circle cx="458.55" cy="270.10" r="0.75" fill="#f26b6b"/>
<circle cx="462.45" cy="270.10" r="0.75" fill="#f26b6b"/>
<circle cx="466.35" cy="270.10" r="0.75" fill="#f26b6b"/>
<line x1="492.50" y1="279.40" x2="550.20" y2="279.40" stroke="#8a8a8a" stroke-width="1.45"/>
<line x1="492.50" y1="283.70" x2="492.50" y2="287.60" stroke="#9a9a9a" stroke-width="1.1"/>
<line x1="550.20" y1="283.70" x2="550.20" y2="287.60" stroke="#9a9a9a" stroke-width="1.1"/>
<circle cx="516.25" cy="276.90" r="0.75" fill="#f26b6b"/>
<circle cx="520.15" cy="276.90" r="0.75" fill="#f26b6b"/>
<circle cx="524.05" cy="276.90" r="0.75" fill="#f26b6b"/>
<circle cx="390" cy="445.5" r="0.5" fill="#999"/>
</svg></body></html>
